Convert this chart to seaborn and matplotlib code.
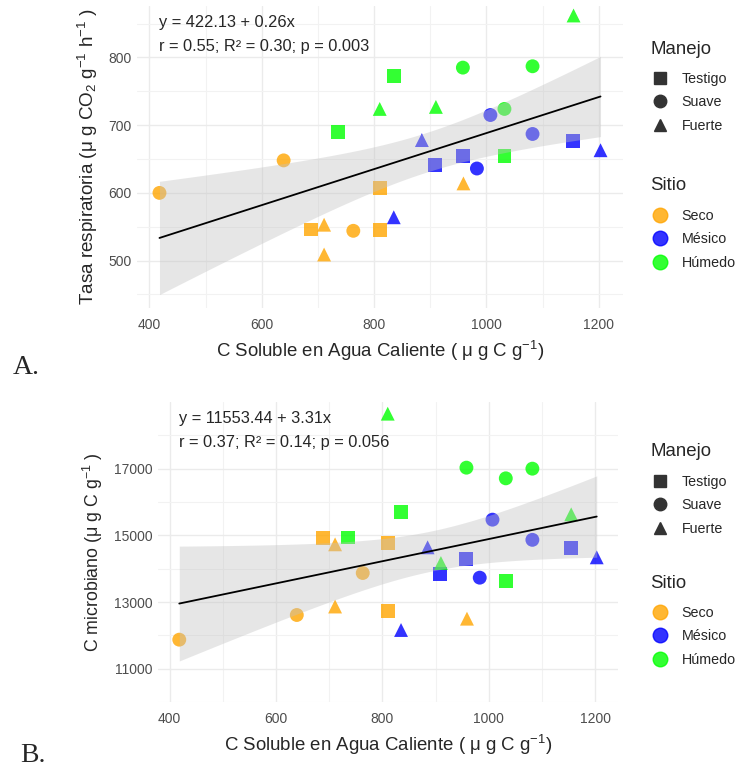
import numpy as np
import pandas as pd
import matplotlib
matplotlib.use("Agg")
import matplotlib.pyplot as plt
from matplotlib.lines import Line2D
import seaborn as sns

# datos
csol = [418, 639, 763, 688, 810, 810, 711, 711, 959,
        1007, 1082, 983, 1154, 909, 958, 835, 885, 1203,
        958, 1082, 1032, 736, 835, 1032, 810, 910, 1155]
resp = [600, 648, 544, 546, 607, 545, 553, 509, 614,
        715, 687, 636, 677, 641, 654, 564, 678, 663,
        785, 787, 724, 690, 773, 654, 724, 727, 862]
cmic = [11870, 12610, 13870, 14920, 14760, 12730, 14730, 12865, 12500,
        15470, 14865, 13730, 14620, 13850, 14300, 12160, 14640, 14340,
        17030, 17000, 16710, 14935, 15690, 13620, 18650, 14170, 15630]
sitio = ["Seco"] * 9 + ["Mésico"] * 9 + ["Húmedo"] * 9
manejo = (["Suave"] * 3 + ["Testigo"] * 3 + ["Fuerte"] * 3) * 3

sitios = ["Seco", "Mésico", "Húmedo"]
manejos = ["Testigo", "Suave", "Fuerte"]
colores = {"Seco": "orange", "Mésico": "blue", "Húmedo": (0, 1, 0)}
marcas = {"Testigo": "s", "Suave": "o", "Fuerte": "^"}

x_ticks = [400, 600, 800, 1000, 1200]
resp_ticks = [500, 600, 700, 800]
cmic_ticks = [11000, 13000, 15000, 17000]

df = pd.DataFrame({"csol": csol, "resp": resp, "cmic": cmic,
                   "Sitio": sitio, "Manejo": manejo})

sns.set_theme(style="white")
plt.rcParams['font.family'] = ['Liberation Sans', 'DejaVu Sans']
plt.rcParams['mathtext.fontset'] = 'custom'
plt.rcParams['mathtext.rm'] = 'Liberation Sans'
plt.rcParams['mathtext.it'] = 'Liberation Sans:italic'
plt.rcParams['mathtext.bf'] = 'Liberation Sans:bold'

fig = plt.figure(figsize=(7.36, 7.69), dpi=100)
W, H = 736, 769

def caja(x0, y0, x1, y1):
    return [x0 / W, 1 - y1 / H, (x1 - x0) / W, (y1 - y0) / H]

ax1 = fig.add_axes(caja(137, 6, 623, 308))
ax2 = fig.add_axes(caja(158, 402, 618, 702))

def banda(ax, xv, yv):
    # intervalo de confianza 95% del ajuste lineal (como geom_smooth lm)
    xv = np.asarray(xv, float)
    yv = np.asarray(yv, float)
    n = len(xv)
    b, a = np.polyfit(xv, yv, 1)
    xs = np.linspace(xv.min(), xv.max(), 100)
    yh = a + b * xs
    s = np.sqrt(np.sum((yv - (a + b * xv)) ** 2) / (n - 2))
    se = s * np.sqrt(1 / n + (xs - xv.mean()) ** 2 / np.sum((xv - xv.mean()) ** 2))
    t = 2.0595  # t(0.975, 25 gl)
    ax.fill_between(xs, yh - t * se, yh + t * se, color=(0.76, 0.76, 0.76),
                    alpha=0.4, linewidth=0, zorder=3)

def panel(ax, ycol, ylim, yticks, ylab, ylab_fs, ec1, ec2):
    sns.scatterplot(data=df, x="csol", y=ycol, hue="Sitio", style="Manejo",
                    palette=colores, markers=marcas, hue_order=sitios,
                    style_order=manejos, s=100, alpha=0.8, linewidth=0,
                    legend=False, ax=ax, zorder=2)
    banda(ax, df["csol"], df[ycol])
    sns.regplot(data=df, x="csol", y=ycol, scatter=False, ci=None,
                color="black", line_kws={"linewidth": 1.3, "zorder": 4}, ax=ax)
    ax.set_xlim(378, 1243)
    ax.set_ylim(*ylim)
    ax.set_xticks(x_ticks)
    ax.set_xticks([v + 100 for v in x_ticks[:-1]], minor=True)
    step = yticks[1] - yticks[0]
    ax.set_yticks(yticks)
    ax.set_yticks([yticks[0] - step / 2] + [v + step / 2 for v in yticks], minor=True)
    ax.grid(True, which="major", color="#EBEBEB", linewidth=1.0)
    ax.grid(True, which="minor", color="#F2F2F2", linewidth=0.8)
    ax.set_axisbelow(True)
    for s in ax.spines.values():
        s.set_visible(False)
    ax.tick_params(which="both", length=0, labelsize=10, labelcolor="#4D4D4D")
    ax.tick_params(axis="x", pad=7)
    ax.tick_params(axis="y", pad=4)
    ax.set_xlabel("C Soluble en Agua Caliente ( μ g C g$^{-1}$)", fontsize=13.4, labelpad=5)
    ax.set_ylabel(ylab, fontsize=ylab_fs, labelpad=6)
    ax.text(0.045, 0.945, ec1, transform=ax.transAxes, fontsize=11.8, va="center", ha="left")
    ax.text(0.045, 0.866, ec2, transform=ax.transAxes, fontsize=11.8, va="center", ha="left")

panel(ax1, "resp", (430, 876), resp_ticks,
      "Tasa respiratoria (μ g CO$_2$ g$^{-1}$ h$^{-1}$ )", 13.6,
      "y = 422.13 + 0.26x", "r = 0.55; R² = 0.30; p = 0.003")
panel(ax2, "cmic", (10860, 19000), cmic_ticks,
      "C microbiano (μ g C g$^{-1}$ )", 12.8,
      "y = 11553.44 + 3.31x", "r = 0.37; R² = 0.14; p = 0.056")

# leyendas
h_man = [Line2D([], [], marker=marcas[m], color="#333333", linestyle="",
                markersize=9, label=m) for m in manejos]
h_sit = [Line2D([], [], marker="o", color=colores[s], alpha=0.8, linestyle="",
                markersize=10.5, label=s) for s in sitios]

def leyenda(handles, titulo, ytit, yitem):
    fig.text(650 / W, 1 - ytit / H, titulo, fontsize=13.4, va="center", ha="left")
    fig.legend(handles=handles, loc="upper left",
               bbox_to_anchor=(652 / W, 1 - (yitem - 11) / H), frameon=False,
               fontsize=10.3, handlelength=1.07, handletextpad=1.01,
               labelspacing=0.66, borderpad=0.0, borderaxespad=0.0)

leyenda(h_man, "Manejo", 49, 83)
leyenda(h_sit, "Sitio", 186, 220)
leyenda(h_man, "Manejo", 452, 486)
leyenda(h_sit, "Sitio", 584, 617)

fig.text(13 / W, 1 - 368 / H, "A.", fontsize=20, family="Liberation Serif", va="center")
fig.text(20 / W, 1 - 755 / H, "B.", fontsize=20, family="Liberation Serif", va="center")

fig.savefig("out.png", dpi=100)
